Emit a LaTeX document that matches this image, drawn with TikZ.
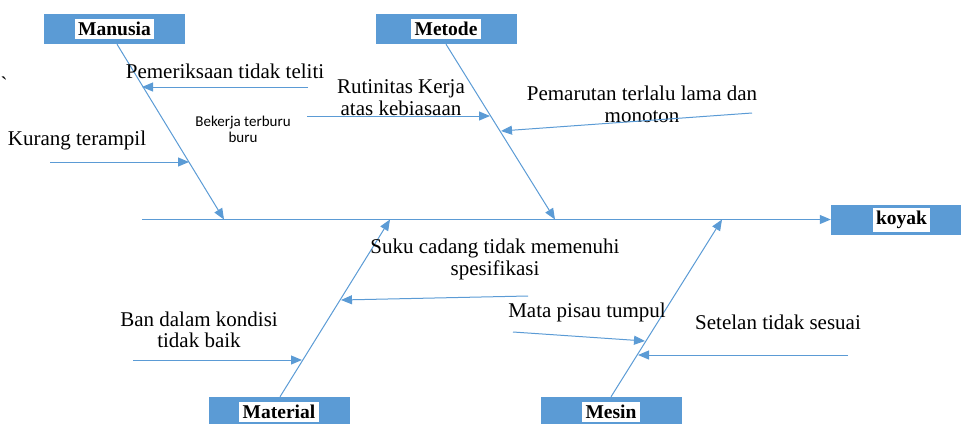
\documentclass[tikz,border=0pt]{standalone}
\usepackage{fontspec}
\setmainfont{Liberation Serif}
\newfontfamily\labelsans{Carlito}
\usepackage{xcolor}
\usetikzlibrary{arrows.meta}
\definecolor{boneblue}{HTML}{5B9BD5}

\begin{document}
\begin{tikzpicture}[x=1pt,y=-1pt,
  bone/.style={draw=boneblue,line width=1pt,-{Triangle[length=11pt,width=9pt]}},
  catbox/.style={fill=boneblue,minimum width=141pt,minimum height=30pt,inner sep=0pt},
  catlabel/.style={fill=white,inner sep=3.5pt,font=\fontsize{19.5}{22}\selectfont\bfseries},
  cause/.style={inner sep=0pt,align=center,font=\fontsize{21}{21.5}\selectfont}]
\useasboundingbox (0,0) rectangle (961,423);

% kepala dan kategori
\node[catbox] (koyak) at (901.5,220) {};
\node[catlabel] (koyaktxt) at (koyak) {koyak};
\node[catbox] (manusia) at (114.5,29) {};
\node[catlabel] (manusiatxt) at (manusia) {Manusia};
\node[catbox] (metode) at (446,29) {};
\node[catlabel] (metodetxt) at (metode) {Metode};
\node[catbox] (material) at (279,412) {};
\node[catlabel] (materialtxt) at (material) {Material};
\node[catbox] (mesin) at (611,412) {};
\node[catlabel] (mesintxt) at (mesin) {Mesin};

% tulang utama
\coordinate (spine) at (142,219.5);
\draw[bone] (spine) -- (spine -| koyak.west);
\coordinate (manusiaS) at (224,219.5);
\coordinate (metodeS) at (555,219.5);
\coordinate (materialS) at (390,219.5);
\coordinate (mesinS) at (722,219.5);
\draw[bone] ([xshift=2.5pt]manusia.south) -- (manusiaS);
\draw[bone] (metode.south) -- (metodeS);
\draw[bone] ([xshift=1pt]material.north) -- (materialS);
\draw[bone] (mesin.north) -- (mesinS);

% sebab
\node[cause,anchor=base] (periksa) at (225,78) {Pemeriksaan tidak teliti};
\node[cause,anchor=base] (terampil) at (77,145) {Kurang terampil};
\node[inner sep=0pt,align=center,font=\labelsans\fontsize{15}{16}\selectfont] (buru) at (243,129) {Bekerja terburu\\buru};
\node[cause] (rutin) at (401,97.5) {Rutinitas Kerja\\atas kebiasaan};
\node[cause] (parut) at (642,104.5) {Pemarutan terlalu lama dan\\monoton};
\node[cause] (suku) at (495,259.5) {Suku cadang tidak memenuhi\\spesifikasi};
\node[cause] (ban) at (199,330) {Ban dalam kondisi\\tidak baik};
\node[cause,anchor=base] (pisau) at (587,317) {Mata pisau tumpul};
\node[cause,anchor=base] (setelan) at (778,329) {Setelan tidak sesuai};
\node[cause,anchor=base] (stray) at (4,91) {\textasciigrave};

\coordinate (periksaA) at (308,87);    \coordinate (periksaB) at (142,87);
\coordinate (terampilA) at (50,162);   \coordinate (terampilB) at (189,162);
\coordinate (rutinA) at (307,116);     \coordinate (rutinB) at (490,116);
\coordinate (parutA) at (752,113);     \coordinate (parutB) at (501,131);
\coordinate (sukuA) at (528,296);      \coordinate (sukuB) at (341,300);
\coordinate (banA) at (133,360);       \coordinate (banB) at (302,360);
\coordinate (pisauA) at (513,332);     \coordinate (pisauB) at (645,341);
\coordinate (setelanA) at (848,355);   \coordinate (setelanB) at (638,355);
\foreach \c in {periksa,terampil,rutin,parut,suku,ban,pisau,setelan}
  \draw[bone] (\c A) -- (\c B);
\end{tikzpicture}
\end{document}
